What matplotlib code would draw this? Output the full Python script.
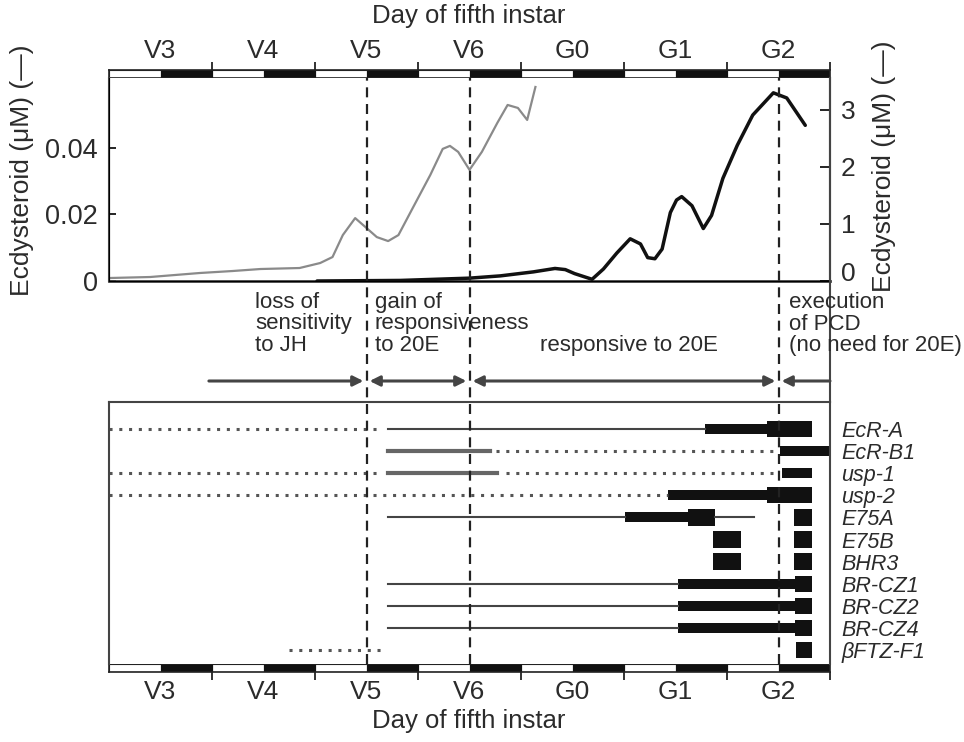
import matplotlib
matplotlib.use('Agg')
import matplotlib.pyplot as plt

plt.rcParams['font.family'] = ['Liberation Sans Narrow', 'Liberation Sans', 'DejaVu Sans']

W, H = 964, 742
INK = '#2b2b2b'


def box(x0, y0, x1, y1):
    # pixel box (origin top-left) -> figure rect
    return [x0 / W, 1 - y1 / H, (x1 - x0) / W, (y1 - y0) / H]


# --- data -------------------------------------------------------------
day_labels = ['V3', 'V4', 'V5', 'V6', 'G0', 'G1', 'G2']

# ecdysteroid titre, left scale (grey)
gray_day = [0.01, 0.4, 0.88, 1.2, 1.47, 1.85, 2.05, 2.17, 2.27, 2.39, 2.49, 2.6, 2.71,
            2.81, 2.95, 3.12, 3.24, 3.31, 3.39, 3.5, 3.62, 3.77, 3.87, 3.97, 4.06, 4.14]
gray_conc = [0.0009, 0.0012, 0.0024, 0.003, 0.0036, 0.0039, 0.0054, 0.0072, 0.0138, 0.0189,
             0.0162, 0.0132, 0.012, 0.0138, 0.022, 0.0319, 0.0397, 0.0406, 0.0388, 0.0334,
             0.0388, 0.0475, 0.0529, 0.052, 0.0484, 0.0583]

# ecdysteroid titre, right scale (black)
black_day = [2.02, 2.83, 3.5, 3.8, 4.12, 4.33, 4.43, 4.52, 4.69, 4.8, 4.93, 5.06, 5.16, 5.23,
             5.3, 5.37, 5.45, 5.51, 5.56, 5.66, 5.77, 5.85, 5.96, 6.1, 6.25, 6.45, 6.58, 6.76]
black_conc = [0.0, 0.01, 0.05, 0.09, 0.16, 0.22, 0.2, 0.13, 0.03, 0.21, 0.49, 0.74, 0.65, 0.41,
              0.39, 0.56, 1.2, 1.42, 1.48, 1.32, 0.92, 1.15, 1.8, 2.38, 2.91, 3.3, 3.21, 2.73]

stage_marks = [2.5, 3.5, 6.5]
phase_bounds = [0.97, 2.5, 3.5, 6.5, 7.0]
phase_texts = ['loss of\nsensitivity\nto JH', 'gain of\nresponsiveness\nto 20E',
               'responsive to 20E', 'execution\nof PCD\n(no need for 20E)']

genes = ['EcR-A', 'EcR-B1', 'usp-1', 'usp-2', 'E75A', 'E75B', 'BHR3',
         'BR-CZ1', 'BR-CZ2', 'BR-CZ4', 'βFTZ-F1']

# (row, start day, end day)
dotted_segs = [(0, 0.0, 2.65), (1, 3.76, 6.47), (2, 0.0, 2.65), (2, 3.85, 6.45),
               (3, 0.0, 5.43), (10, 1.75, 2.65)]
thin_segs = [(0, 2.71, 5.79), (4, 2.71, 5.01), (4, 5.88, 6.26),
             (7, 2.71, 5.52), (8, 2.71, 5.52), (9, 2.71, 5.52)]
gray_segs = [(1, 2.71, 3.70), (2, 2.71, 3.77)]
low_bars = [(0, 5.79, 6.39), (1, 6.51, 7.0), (2, 6.53, 6.83), (3, 5.43, 6.39),
            (4, 5.01, 5.62), (7, 5.52, 6.66), (8, 5.52, 6.66), (9, 5.52, 6.66)]
high_bars = [(0, 6.39, 6.83), (3, 6.39, 6.83), (4, 5.62, 5.88), (4, 6.65, 6.83),
             (5, 5.86, 6.14), (5, 6.65, 6.83), (6, 5.86, 6.14), (6, 6.65, 6.83),
             (7, 6.66, 6.83), (8, 6.66, 6.83), (9, 6.66, 6.83), (10, 6.67, 6.83)]

fig = plt.figure(figsize=(W / 100, H / 100), dpi=100)


def day_bar(rect, side):
    ax = fig.add_axes(rect)
    ax.set_xlim(0, 7)
    ax.set_ylim(0, 1)
    days = range(len(day_labels))
    ax.broken_barh([(d, 0.5) for d in days], (0, 1), facecolor='white', edgecolor='#222', lw=0.8)
    ax.broken_barh([(d + 0.5, 0.5) for d in days], (0, 1), facecolor='#111', edgecolor='#111', lw=0.8)
    for s in ax.spines.values():
        s.set_color('#222')
        s.set_linewidth(1.2)
    ax.set_yticks([])
    ax.set_xticks(range(1, 8), [''] * 7)
    ax.set_xticks([d + 0.5 for d in days], day_labels, minor=True)
    top = side == 'top'
    ax.tick_params(axis='x', which='major', length=5.5, width=1.4, color='#333',
                   top=top, bottom=not top, labeltop=False, labelbottom=False)
    ax.tick_params(axis='x', which='minor', length=0, labelsize=19, labelcolor=INK,
                   pad=5 if top else 6,
                   top=top, bottom=not top, labeltop=top, labelbottom=not top)
    return ax


day_bar(box(109, 70, 830, 78), 'top')
day_bar(box(109, 664, 830, 672), 'bottom')
fig.text(469 / W, 1 - 16 / H, 'Day of fifth instar', ha='center', va='center', fontsize=18.5, color=INK)
fig.text(469 / W, 1 - 721 / H, 'Day of fifth instar', ha='center', va='center', fontsize=18.5, color=INK)

# --- titre panel ------------------------------------------------------
ax = fig.add_axes(box(109, 78, 830, 281))
ax.plot(gray_day, gray_conc, color='#8a8a8a', lw=1.6, solid_joinstyle='round')
ax.set_xlim(0, 7)
ax.set_ylim(0, 0.061)
ax.set_xticks([])
ax.set_yticks([0, 0.02, 0.04], ['0', '0.02', '0.04'])
ax.spines['top'].set_visible(False)
for s in ('left', 'bottom', 'right'):
    ax.spines[s].set_color('#444')
    ax.spines[s].set_linewidth(1.5)
ax.spines['bottom'].set_linewidth(2)
ax.tick_params(axis='y', direction='in', length=5, width=1.2, labelsize=19.5, labelcolor=INK, pad=8)

ax2 = ax.twinx()
ax2.plot(black_day, black_conc, color='#111', lw=2.5, solid_joinstyle='round', solid_capstyle='round')
ax2.set_ylim(0, 3.56)
ax2.set_yticks([0, 1, 2, 3])
ax2.spines['top'].set_visible(False)
ax2.spines['right'].set_color('#444')
ax2.spines['right'].set_linewidth(1.5)
ax2.tick_params(axis='y', direction='in', length=7, width=1.2, labelsize=19, labelcolor=INK, pad=8)
# keep the "0" clear of the annotation text just below it
ax2.get_yticklabels()[0].set_verticalalignment('baseline')

fig.text(22 / W, 1 - 170 / H, 'Ecdysteroid (μM) (—)', rotation=90, ha='center', va='center',
         fontsize=19, color=INK)
fig.text(884 / W, 1 - 166 / H, 'Ecdysteroid (μM) (—)', rotation=90, ha='center', va='center',
         fontsize=19, color=INK)

# --- phases -----------------------------------------------------------
axm = fig.add_axes(box(109, 281, 830, 402))
axm.set_xlim(0, 7)
axm.set_ylim(402, 281)
axm.axis('off')
styles = ['-|>', '<|-|>', '<|-|>', '<|-']
for i, st in enumerate(styles):
    a = phase_bounds[i] + (0.03 if i else 0)
    b = phase_bounds[i + 1] - (0.03 if i < 3 else 0)
    axm.annotate('', xy=(b, 381), xytext=(a, 381),
                 arrowprops=dict(arrowstyle=st, color='#444', lw=2.2, mutation_scale=15,
                                 shrinkA=0, shrinkB=0))
axm.plot([7, 7], [281, 402], color='#444', lw=1.5, clip_on=False)
kw = dict(fontsize=16, color=INK, linespacing=1.02, va='center')
axm.text(1.42, 324, phase_texts[0], ha='left', **kw)
axm.text(2.58, 324, phase_texts[1], ha='left', **kw)
axm.text(5.05, 346, phase_texts[2], ha='center', **kw)
axm.text(6.6, 324, phase_texts[3], ha='left', **kw)

# --- gene expression panel --------------------------------------------
axg = fig.add_axes(box(109, 402, 830, 664))
axg.set_xlim(0, 7)
axg.set_ylim(10.63, -1.22)
for r, a, b in dotted_segs:
    axg.plot([a, b], [r, r], color='#555', lw=2.2, linestyle=(0, (1, 2.2)), dash_capstyle='butt')
for r, a, b in thin_segs:
    axg.plot([a, b], [r, r], color='#444', lw=1.5)
for r, a, b in gray_segs:
    axg.plot([a, b], [r, r], color='#666', lw=3)
axg.barh([r for r, a, b in low_bars], [b - a for r, a, b in low_bars],
         left=[a for r, a, b in low_bars], height=0.45, color='#111')
axg.barh([r for r, a, b in high_bars], [b - a for r, a, b in high_bars],
         left=[a for r, a, b in high_bars], height=0.74, color='#111')
axg.set_xticks([])
axg.yaxis.tick_right()
axg.set_yticks(range(len(genes)), genes)
axg.tick_params(axis='y', length=0, pad=8, labelsize=15.5, labelcolor=INK)
for lab in axg.get_yticklabels():
    lab.set_fontstyle('italic')
axg.spines['bottom'].set_visible(False)
for s in ('left', 'top', 'right'):
    axg.spines[s].set_color('#444')
    axg.spines[s].set_linewidth(1.5)

# --- stage boundaries across the whole figure -------------------------
axo = fig.add_axes(box(109, 78, 830, 664))
axo.set_xlim(0, 7)
axo.set_ylim(0, 1)
axo.axis('off')
for x in stage_marks:
    axo.axvline(x, color='#222', lw=1.6, linestyle=(0, (4.5, 3)))

fig.savefig('out.png', dpi=100)
